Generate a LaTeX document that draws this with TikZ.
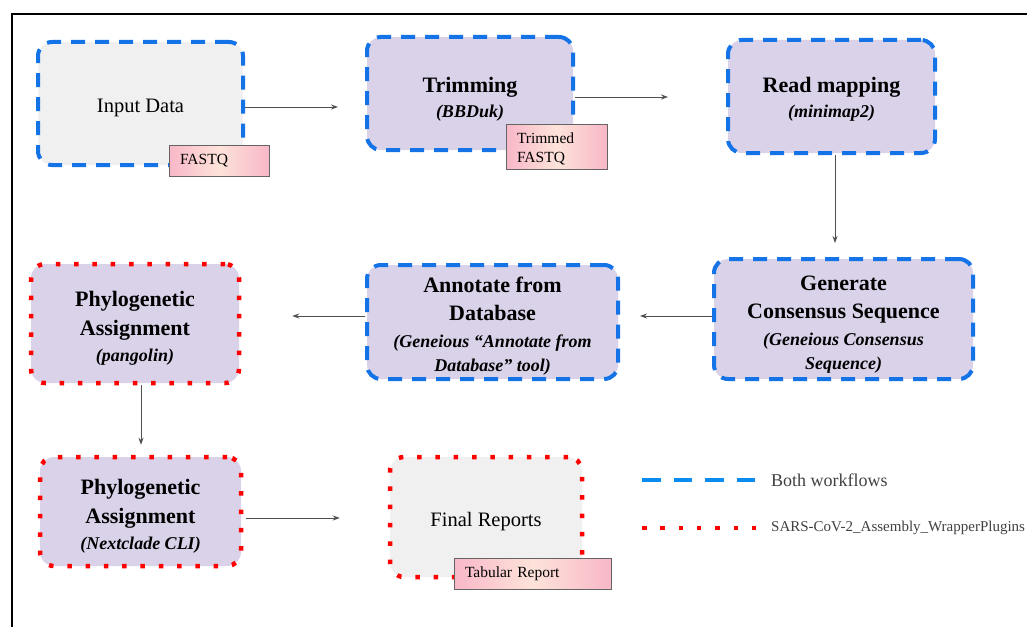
\documentclass[tikz,border=0pt]{standalone}
\usepackage{fontspec}
\setmainfont{Liberation Serif}
\usetikzlibrary{arrows.meta}
\definecolor{bluedash}{RGB}{20,115,230}
\definecolor{legblue}{RGB}{10,140,240}
\definecolor{reddot}{RGB}{255,0,0}
\definecolor{lav}{RGB}{217,210,233}
\definecolor{grayfill}{RGB}{240,240,240}
\definecolor{pinkA}{RGB}{248,183,199}
\definecolor{pinkB}{RGB}{253,227,218}
\definecolor{badgeline}{RGB}{100,100,100}
\definecolor{arrgray}{RGB}{80,80,80}
\definecolor{legtext}{RGB}{64,64,64}
\newcommand{\ttlf}{\fontsize{22}{28}\selectfont\bfseries}
\newcommand{\subf}{\fontsize{18}{28}\selectfont\bfseries\itshape}
\newcommand{\tstrut}[1]{\rule{0pt}{#1}}
\tikzset{
 box/.style={rounded corners=14pt, inner sep=0pt, align=center, text=black, font=\fontsize{22}{28}\selectfont},
 both/.style={box, draw=bluedash, line width=4pt, dash pattern=on 14pt off 10pt},
 plugin/.style={box, draw=reddot, line width=4.5pt, dash pattern=on 4.5pt off 13.8pt},
 proc/.style={fill=lav},
 datafill/.style={fill=grayfill, font=\fontsize{20.5}{24}\selectfont},
 badge/.style={draw=badgeline, line width=1pt, left color=pinkA, right color=pinkA, middle color=pinkB, inner xsep=11pt, inner ysep=0pt, align=left, font=\fontsize{15.5}{19.5}\selectfont, text=black},
 arr/.style={draw=arrgray, line width=0.9pt, -{Stealth[length=7pt,width=5pt]}},
 legline/.style={line width=4.5pt},
 legtxt/.style={anchor=west, inner sep=0pt, text=legtext},
}
\begin{document}
\begin{tikzpicture}[x=1pt,y=-1pt]
\useasboundingbox (0,0) rectangle (1027,626);
% frame
\draw[line width=2.5pt, black] (12,640) -- (12,14) -- (1040,14);

% boxes
\node[both, datafill, minimum width=205pt, minimum height=123pt] (in) at (140.5,103.5) {\tstrut{23pt}Input Data};
\node[both, proc, minimum width=206pt, minimum height=113pt] (trim) at (470,93.5) {\tstrut{27pt}\ttlf Trimming\\[-3pt] \subf (BBDuk)};
\node[both, proc, minimum width=207pt, minimum height=113pt] (read) at (831.5,96.5) {\tstrut{21pt}\ttlf Read mapping\\[-3pt] \subf (minimap2)};
\node[both, proc, minimum width=259pt, minimum height=120pt] (gen) at (843.5,319) {\tstrut{25pt}\ttlf Generate\\ \ttlf Consensus Sequence\\[-1pt] \subf (Geneious Consensus\\[-4pt] \subf Sequence)};
\node[both, proc, minimum width=251pt, minimum height=114pt] (ann) at (492.5,322) {\tstrut{23pt}\ttlf Annotate from\\ \ttlf Database\\[-1pt] \subf (Geneious “Annotate from\\[-4pt] \subf Database” tool)};
\node[plugin, proc, minimum width=208pt, minimum height=119pt] (phy1) at (135,323.5) {\tstrut{25pt}\ttlf Phylogenetic\\[1pt] \ttlf Assignment\\[-2pt] \subf (pangolin)};
\node[plugin, proc, minimum width=201pt, minimum height=109pt] (phy2) at (140.5,511.5) {\tstrut{25pt}\ttlf Phylogenetic\\[1pt] \ttlf Assignment\\[-2pt] \subf (Nextclade CLI)};
\node[plugin, datafill, minimum width=192pt, minimum height=120pt] (final) at (486,517) {\tstrut{24pt}Final Reports};

% badges
\node[badge, text width=78pt, minimum height=31pt] (bfq) at (219,160.5) {FASTQ};
\node[badge, text width=79pt, minimum height=45pt] (btf) at (556.5,146.5) {\tstrut{16pt}Trimmed\\FASTQ};
\node[badge, text width=135pt, minimum height=31pt] (btr) at (532.5,573.5) {Tabular Report};

% arrows
\draw[arr, shorten >=27pt] ([yshift=-3.5pt]in.east) -- ([yshift=-3.5pt]in.east -| trim.west);
\draw[arr, shorten >=58pt] ([yshift=-3.5pt]trim.east) -- ([yshift=-3.5pt]trim.east -| read.west);
\draw[arr, shorten >=14pt] ([xshift=3.5pt]read.south) -- ([xshift=3.5pt]read.south |- gen.north);
\draw[arr, shorten >=20pt] ([yshift=3pt]gen.west) -- ([yshift=3pt]gen.west -| ann.east);
\draw[arr, shorten >=51pt] ([yshift=6pt]ann.west) -- ([yshift=6pt]ann.west -| phy1.east);
\draw[arr, shorten >=10pt] ([xshift=6pt]phy1.south) -- ([xshift=6pt]phy1.south |- phy2.north);
\draw[arr, shorten >=48pt, shorten <=3pt] ([yshift=-6.5pt]phy2.east) -- ([yshift=-6.5pt]phy2.east -| final.west);

% legend
\coordinate (la1) at (642,480);
\coordinate (la2) at (757,480);
\coordinate (lb1) at (642,528);
\coordinate (lb2) at (757,528);
\draw[legline, legblue, dash pattern=on 18.5pt off 13pt] (la1) -- (la2);
\draw[legline, reddot, dash pattern=on 4.5pt off 13.8pt] (lb1) -- (lb2);
\node[legtxt, font=\fontsize{18}{20}\selectfont] (lta) at (771,480) {Both workflows};
\node[legtxt, font=\fontsize{15}{17}\selectfont] (ltb) at (771,528) {SARS-CoV-2\_Assembly\_WrapperPlugins};
\end{tikzpicture}
\end{document}
